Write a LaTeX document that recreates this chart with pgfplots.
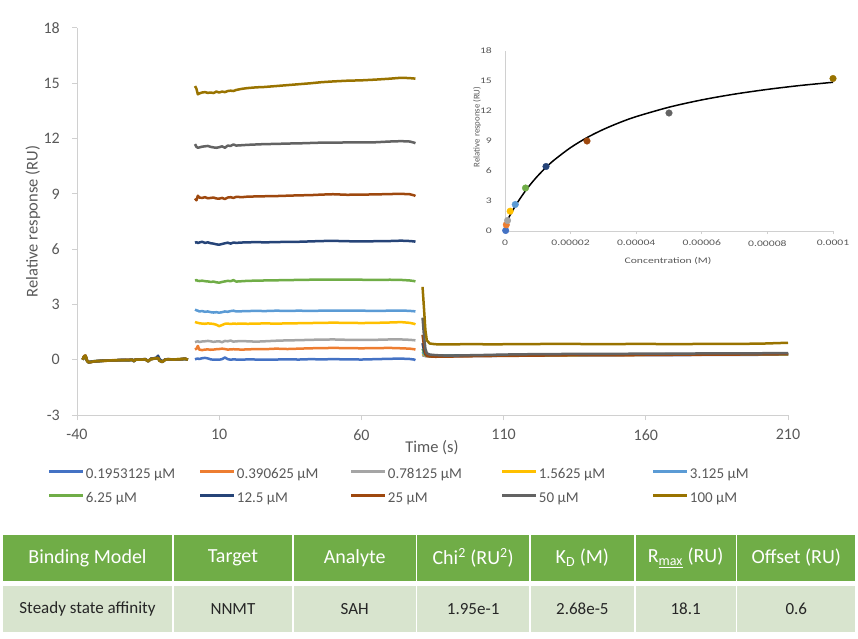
\documentclass[border=0pt]{standalone}
\usepackage{pgfplots}
\pgfplotsset{compat=1.18}
\usepackage{pgfplotstable}
\usepackage{fontspec}
\setmainfont{Carlito}
\newfontfamily\insetfont[FakeStretch=1.37]{Carlito}
\definecolor{c1}{HTML}{4472C4}
\definecolor{c2}{HTML}{ED7D31}
\definecolor{c3}{HTML}{A5A5A5}
\definecolor{c4}{HTML}{FFC000}
\definecolor{c5}{HTML}{5B9BD5}
\definecolor{c6}{HTML}{70AD47}
\definecolor{c7}{HTML}{264478}
\definecolor{c8}{HTML}{9E480E}
\definecolor{c9}{HTML}{636363}
\definecolor{c10}{HTML}{997300}
\definecolor{tickgray}{HTML}{595959}
\definecolor{axgray}{HTML}{D0D0D0}
\definecolor{hdrgreen}{HTML}{70AD47}
\definecolor{bodygreen}{RGB}{216,228,206}

\pgfplotstableread{
t s1 s2 s3 s4 s5 s6 s7 s8 s9 s10
-38 0.02 0.01 0.00 0.03 0.01 0.00 0.02 0.01 0.00 0.00
-37.5 0.15 0.20 0.10 0.18 0.12 0.16 0.14 0.20 0.17 0.18
-37 0.18 0.15 0.20 0.22 0.19 0.21 0.17 0.23 0.20 0.22
-36.5 -0.03 -0.06 -0.04 -0.02 -0.05 -0.06 -0.03 -0.04 -0.05 -0.05
-36 -0.12 -0.13 -0.11 -0.14 -0.12 -0.13 -0.15 -0.12 -0.14 -0.14
-35 -0.11 -0.10 -0.12 -0.11 -0.10 -0.12 -0.11 -0.13 -0.12 -0.12
-34 -0.08 -0.09 -0.08 -0.10 -0.09 -0.08 -0.10 -0.09 -0.09 -0.09
-32 -0.06 -0.07 -0.07 -0.06 -0.08 -0.07 -0.06 -0.07 -0.07 -0.07
-30 -0.05 -0.04 -0.05 -0.06 -0.05 -0.04 -0.05 -0.06 -0.05 -0.05
-28 -0.04 -0.03 -0.04 -0.04 -0.05 -0.04 -0.03 -0.04 -0.04 -0.04
-26 -0.03 -0.02 -0.03 -0.04 -0.03 -0.02 -0.03 -0.03 -0.03 -0.03
-24 -0.02 -0.01 -0.02 -0.03 -0.02 -0.02 -0.01 -0.02 -0.02 -0.02
-22 -0.02 -0.02 -0.01 -0.02 -0.03 -0.02 -0.02 -0.01 -0.02 -0.02
-20.5 0.00 -0.01 0.00 -0.01 -0.02 -0.01 0.00 -0.01 -0.01 -0.01
-20 -0.06 -0.07 -0.05 -0.08 -0.06 -0.07 -0.09 -0.06 -0.08 -0.08
-19.5 0.01 0.00 0.01 0.00 0.01 -0.01 0.00 0.01 0.00 0.00
-18 0.00 0.01 0.00 0.01 0.00 0.01 0.00 0.00 0.01 0.00
-16 0.02 0.03 0.01 0.02 0.03 0.02 0.04 0.02 0.02 0.02
-15 -0.06 -0.08 -0.07 -0.09 -0.07 -0.08 -0.10 -0.07 -0.08 -0.08
-14 0.03 0.04 0.05 0.03 0.04 0.05 0.06 0.04 0.04 0.04
-13 0.05 0.06 0.07 0.05 0.06 0.07 0.08 0.06 0.06 0.06
-12 0.07 0.08 0.09 0.08 0.07 0.09 0.12 0.08 0.08 0.08
-11.5 0.08 0.10 0.11 0.09 0.10 0.11 0.22 0.10 0.10 0.10
-11 -0.04 -0.05 -0.03 -0.06 -0.05 -0.04 0.05 -0.05 -0.05 -0.05
-10 -0.10 -0.11 -0.12 -0.10 -0.13 -0.11 -0.10 -0.12 -0.12 -0.12
-9 0.00 0.01 -0.01 0.00 0.01 0.00 0.02 0.00 0.00 0.00
-8 0.02 0.03 0.02 0.01 0.03 0.02 0.03 0.02 0.02 0.02
-6 0.01 0.02 0.01 0.02 0.01 0.02 0.01 0.01 0.01 0.01
-4 0.02 0.03 0.02 0.03 0.02 0.03 0.02 0.02 0.02 0.02
-2 0.04 0.05 0.04 0.06 0.05 0.04 0.05 0.05 0.05 0.05
-1 0.00 0.01 0.00 0.01 0.00 0.01 0.00 0.01 0.00 0.00
nan nan nan nan nan nan nan nan nan nan nan
1.5 0.02 0.55 0.95 2.05 2.72 4.30 6.35 8.75 11.70 14.85
2 0.05 0.60 0.98 2.02 2.68 4.32 6.38 8.65 11.55 14.70
2.5 0.06 0.75 1.00 2.00 2.66 4.28 6.33 8.90 11.50 14.40
3 0.04 0.55 0.96 1.98 2.62 4.27 6.36 8.80 11.52 14.45
4 0.08 0.52 0.99 1.96 2.64 4.29 6.40 8.78 11.56 14.50
5 0.10 0.55 1.00 1.95 2.60 4.26 6.34 8.82 11.58 14.52
6 0.07 0.56 1.02 1.97 2.62 4.25 6.37 8.76 11.60 14.48
7 0.02 0.54 1.00 1.96 2.58 4.22 6.32 8.78 11.55 14.50
8 0.00 0.55 0.97 1.94 2.56 4.24 6.30 8.80 11.52 14.47
9 0.01 0.57 0.99 1.90 2.58 4.20 6.26 8.75 11.50 14.55
10 0.00 0.58 1.00 1.82 2.55 4.18 6.24 8.74 11.53 14.50
11 0.03 0.60 0.95 1.88 2.58 4.22 6.28 8.78 11.58 14.55
12 0.12 0.58 1.02 1.95 2.62 4.25 6.32 8.72 11.50 14.52
13 0.03 0.55 1.00 1.96 2.60 4.28 6.35 8.80 11.62 14.58
14 0.00 0.56 1.04 1.94 2.64 4.26 6.30 8.82 11.60 14.60
15 0.02 0.57 0.98 1.96 2.66 4.32 6.36 8.78 11.68 14.58
16 0.01 0.56 1.00 1.95 2.62 4.24 6.34 8.84 11.62 14.64
18 0.00 0.55 1.01 1.96 2.63 4.26 6.36 8.82 11.64 14.70
20 0.02 0.56 1.00 1.95 2.64 4.28 6.37 8.85 11.66 14.74
23 0.01 0.58 0.98 1.96 2.65 4.29 6.38 8.86 11.68 14.78
26 0.00 0.57 1.00 1.97 2.64 4.30 6.37 8.87 11.70 14.80
30 0.01 0.60 1.03 1.96 2.66 4.31 6.38 8.88 11.71 14.85
34 0.02 0.58 1.05 1.97 2.65 4.32 6.40 8.90 11.73 14.90
38 0.01 0.60 1.06 1.98 2.66 4.33 6.40 8.92 11.74 14.95
42 0.03 0.62 1.08 1.99 2.65 4.34 6.42 8.93 11.76 15.00
46 0.02 0.63 1.09 2.00 2.66 4.35 6.44 8.96 11.78 15.06
50 0.03 0.64 1.10 2.01 2.67 4.35 6.45 8.98 11.78 15.10
55 0.02 0.63 1.08 2.00 2.66 4.34 6.43 8.95 11.79 15.14
60 0.01 0.62 1.07 1.99 2.66 4.34 6.42 8.96 11.80 15.16
65 0.03 0.63 1.08 2.00 2.65 4.33 6.43 8.97 11.80 15.20
70 0.05 0.64 1.10 2.02 2.66 4.34 6.44 8.99 11.84 15.25
74 0.06 0.62 1.10 2.04 2.67 4.33 6.46 9.00 11.86 15.30
77 0.04 0.60 1.08 2.00 2.65 4.30 6.44 8.98 11.84 15.28
78.5 0.01 0.57 1.06 1.95 2.63 4.27 6.42 8.92 11.78 15.26
79 -0.02 0.55 1.05 1.92 2.62 4.25 6.40 8.88 11.75 15.25
nan nan nan nan nan nan nan nan nan nan nan
81.5 0.25 0.28 0.30 0.35 0.42 0.60 0.90 1.35 2.28 3.95
82 0.22 0.24 0.25 0.27 0.30 0.38 0.50 0.75 1.30 2.80
82.5 0.20 0.21 0.22 0.22 0.24 0.26 0.30 0.35 0.60 1.60
83 0.19 0.20 0.21 0.21 0.22 0.22 0.22 0.22 0.35 1.05
84 0.19 0.20 0.20 0.20 0.21 0.20 0.20 0.18 0.28 0.88
86 0.19 0.20 0.20 0.20 0.21 0.20 0.20 0.16 0.25 0.84
90 0.20 0.20 0.21 0.21 0.22 0.21 0.21 0.17 0.22 0.83
95 0.20 0.21 0.21 0.22 0.22 0.22 0.22 0.18 0.23 0.84
100 0.21 0.22 0.22 0.22 0.23 0.23 0.23 0.19 0.25 0.85
105 0.21 0.22 0.23 0.23 0.24 0.23 0.24 0.20 0.26 0.83
110 0.22 0.23 0.23 0.24 0.24 0.24 0.25 0.21 0.28 0.84
120 0.23 0.24 0.24 0.24 0.25 0.25 0.26 0.22 0.30 0.85
130 0.23 0.24 0.25 0.25 0.26 0.26 0.27 0.24 0.31 0.86
140 0.24 0.25 0.25 0.26 0.26 0.27 0.28 0.25 0.32 0.85
150 0.24 0.25 0.26 0.26 0.27 0.27 0.28 0.25 0.32 0.85
160 0.25 0.26 0.26 0.27 0.27 0.28 0.29 0.26 0.33 0.86
170 0.25 0.26 0.27 0.27 0.28 0.28 0.30 0.27 0.33 0.84
180 0.26 0.27 0.27 0.28 0.28 0.29 0.30 0.27 0.34 0.86
190 0.26 0.27 0.28 0.28 0.29 0.30 0.31 0.28 0.34 0.86
200 0.27 0.28 0.28 0.29 0.29 0.30 0.31 0.29 0.35 0.87
210 0.27 0.28 0.29 0.29 0.30 0.31 0.32 0.30 0.36 0.92
}\sprdata

\pgfplotstableread{
c r
7.8125e-7 1.11
1e-6 1.25
2e-6 1.86
3e-6 2.42
4e-6 2.95
6e-6 3.91
8e-6 4.76
1e-5 5.52
1.25e-5 6.36
1.5e-5 7.10
2e-5 8.34
2.5e-5 9.34
3e-5 10.16
3.5e-5 10.85
4e-5 11.44
5e-5 12.38
6e-5 13.11
7e-5 13.69
8e-5 14.16
9e-5 14.55
1e-4 14.87
}\fitdata

\begin{document}
\begin{tikzpicture}
\useasboundingbox (0pt,0pt) rectangle (858pt,638pt);
\begin{axis}[
  at={(77pt,223pt)}, anchor=south west, scale only axis,
  width=711pt, height=387pt,
  xmin=-40, xmax=210, ymin=-3, ymax=18,
  xtick={-40,10,60,110,160,210}, ytick={-3,0,3,6,9,12,15,18},
  axis lines*=left,
  axis line style={axgray, line width=1pt},
  tick align=outside, major tick length=5pt,
  tick style={axgray, line width=1pt},
  /pgf/number format/assume math mode=true,
  every tick label/.append style={font=\fontsize{16}{19}\selectfont, text=tickgray},
  yticklabel style={inner sep=0pt, xshift=-12pt},
  xticklabel style={inner sep=0pt, yshift=-9pt},
  xlabel={Time (s)}, ylabel={Relative response (RU)},
  xlabel style={at={(axis description cs:0.4993,0)}, anchor=center, yshift=-33pt, font=\fontsize{16.5}{19}\selectfont, text=tickgray},
  ylabel style={at={(axis description cs:-0.0619,0.5)}, anchor=center, font=\fontsize{16.5}{19}\selectfont, text=tickgray},
  unbounded coords=jump,
  every axis plot/.append style={line width=2.5pt, line join=round},
  legend columns=5,
  legend cell align=left,
  legend style={draw=none, fill=none, at={(-0.0408,-0.1331)}, anchor=north west,
    inner sep=0pt, outer sep=0pt, column sep=0pt, row sep=7pt,
    font=\fontsize{15}{18}\selectfont, text=tickgray,
    nodes={inner sep=1pt, text height=11pt, text depth=4pt}},
  legend image code/.code={\draw[#1, line width=3pt] (0pt,3.5pt) -- (34pt,3.5pt);},
]
\addplot[c1] table[x=t, y=s1] {\sprdata};
\addlegendentry{\makebox[112pt][l]{0.1953125 µM}}
\addplot[c2] table[x=t, y=s2] {\sprdata};
\addlegendentry{\makebox[112pt][l]{0.390625 µM}}
\addplot[c3] table[x=t, y=s3] {\sprdata};
\addlegendentry{\makebox[112pt][l]{0.78125 µM}}
\addplot[c4] table[x=t, y=s4] {\sprdata};
\addlegendentry{\makebox[112pt][l]{1.5625 µM}}
\addplot[c5] table[x=t, y=s5] {\sprdata};
\addlegendentry{\makebox[112pt][l]{3.125 µM}}
\addplot[c6] table[x=t, y=s6] {\sprdata};
\addlegendentry{\makebox[112pt][l]{6.25 µM}}
\addplot[c7] table[x=t, y=s7] {\sprdata};
\addlegendentry{\makebox[112pt][l]{12.5 µM}}
\addplot[c8] table[x=t, y=s8] {\sprdata};
\addlegendentry{\makebox[112pt][l]{25 µM}}
\addplot[c9] table[x=t, y=s9] {\sprdata};
\addlegendentry{\makebox[112pt][l]{50 µM}}
\addplot[c10] table[x=t, y=s10] {\sprdata};
\addlegendentry{\makebox[112pt][l]{100 µM}}
\end{axis}

\begin{axis}[
  at={(505pt,407pt)}, anchor=south west, scale only axis,
  width=328pt, height=180pt,
  xmin=0, xmax=0.0001, ymin=0, ymax=18,
  xtick={0,0.00002,0.00004,0.00006,0.00008,0.0001},
  xticklabels={0,0.00002,0.00004,0.00006,0.00008,0.0001},
  scaled x ticks=false,
  ytick={0,3,6,9,12,15,18},
  axis lines*=left,
  axis line style={axgray, line width=1pt},
  tick align=outside, major tick length=3pt,
  xtick style={axgray, line width=0.8pt},
  ytick style={draw=none},
  clip=false,
  /pgf/number format/assume math mode=true,
  every tick label/.append style={font=\insetfont\fontsize{8.5}{10}\selectfont, text=tickgray},
  yticklabel style={inner sep=0pt, xshift=-10pt},
  xticklabel style={inner sep=0pt, yshift=-6pt},
  xlabel={Concentration (M)}, ylabel={Relative response (RU)},
  xlabel style={at={(axis description cs:0.497,-0.1667)}, anchor=center, font=\insetfont\fontsize{8.5}{10}\selectfont, text=tickgray},
  ylabel style={at={(axis description cs:-0.0854,0.578)}, anchor=center, font=\fontsize{8.8}{10}\selectfont, text=tickgray},
]
\addplot[black, line width=1.5pt, smooth] table[x=c, y=r] {\fitdata};
\addplot[only marks, mark=*, mark size=3.3pt, c1] coordinates {(1.953125e-7,0.05)};
\addplot[only marks, mark=*, mark size=3.3pt, c2] coordinates {(3.90625e-7,0.62)};
\addplot[only marks, mark=*, mark size=3.3pt, c3] coordinates {(7.8125e-7,1.05)};
\addplot[only marks, mark=*, mark size=3.3pt, c4] coordinates {(1.5625e-6,1.98)};
\addplot[only marks, mark=*, mark size=3.3pt, c5] coordinates {(3.125e-6,2.65)};
\addplot[only marks, mark=*, mark size=3.3pt, c6] coordinates {(6.25e-6,4.30)};
\addplot[only marks, mark=*, mark size=3.3pt, c7] coordinates {(1.25e-5,6.45)};
\addplot[only marks, mark=*, mark size=3.3pt, c8] coordinates {(2.5e-5,9.00)};
\addplot[only marks, mark=*, mark size=3.3pt, c9] coordinates {(5e-5,11.80)};
\addplot[only marks, mark=*, mark size=3.3pt, c10] coordinates {(1e-4,15.25)};
\end{axis}

\begin{scope}[x=1pt, y=1pt]
\foreach \a/\b/\h/\d in {3/172/{Binding Model}/{Steady state affinity},
  173.5/292.3/{Target}/{NNMT},
  294/415.5/{Analyte}/{SAH},
  417.3/529/{Chi\textsuperscript{2} (RU\textsuperscript{2})}/{1.95e-1},
  530.7/634/{K\textsubscript{D} (M)}/{2.68e-5},
  635.7/735.5/{R\textsubscript{\underline{max}} (RU)}/{18.1},
  737.3/855.3/{Offset (RU)}/{0.6}} {
  \fill[hdrgreen] (\a,57) rectangle (\b,103);
  \fill[bodygreen] (\a,6.3) rectangle (\b,52);
  \node[font=\fontsize{20}{24}\selectfont, text=white] at ({(\a+\b)/2},80) {\h};
  \node[font=\fontsize{17}{20}\selectfont, text=black!85] at ({(\a+\b)/2},29) {\d};
}
\end{scope}
\end{tikzpicture}
\end{document}
